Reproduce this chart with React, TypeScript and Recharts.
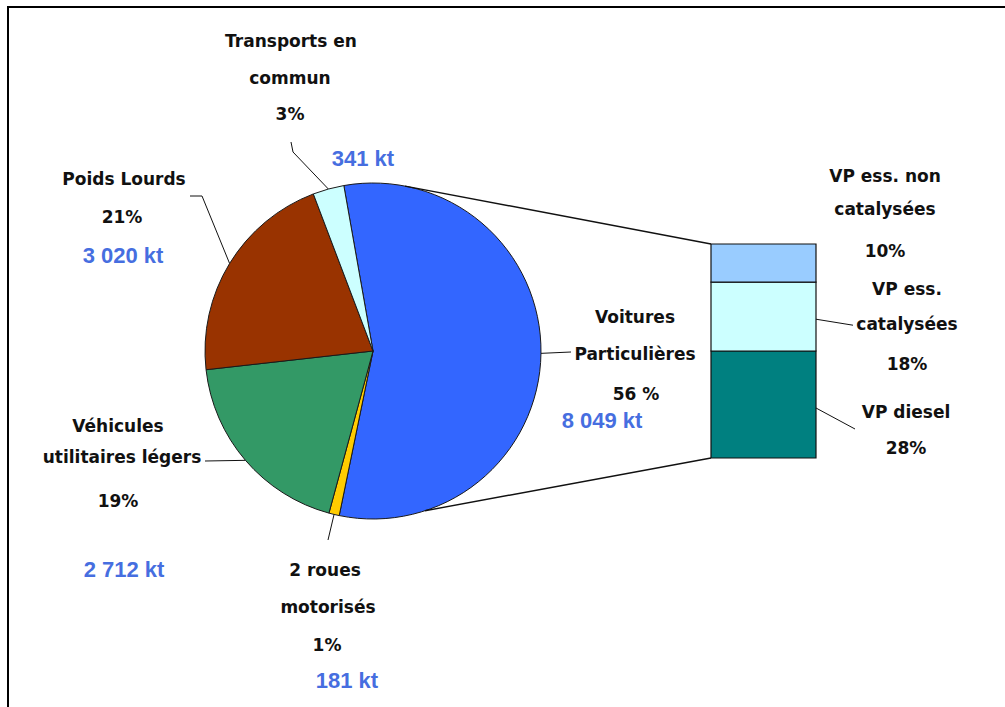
import { Bar, BarChart, Cell, Pie, PieChart, XAxis, YAxis } from 'recharts'

// Emissions by vehicle type (share of total, %), clockwise from the top
const SLICE_NAMES = [
  'Voitures Particulières',
  '2 roues motorisés',
  'Véhicules utilitaires légers',
  'Poids Lourds',
  'Transports en commun',
]
const SLICE_SHARES = [56, 1, 19, 21, 3]
const SLICE_KT = ['8 049 kt', '181 kt', '2 712 kt', '3 020 kt', '341 kt']
const SLICE_LINES = [
  ['Voitures', 'Particulières', '56 %'],
  ['2 roues', 'motorisés', '1%'],
  ['Véhicules', 'utilitaires légers', '19%'],
  ['Poids Lourds', '21%'],
  ['Transports en', 'commun', '3%'],
]
const SLICE_COLORS = ['#3366ff', '#ffcc00', '#339966', '#993300', '#ccffff']

// Breakdown of the "Voitures Particulières" slice, bottom to top
const VP_KEYS = ['diesel', 'essCat', 'essNonCat']
const VP_SHARES = [28, 18, 10]
const VP_LINES = [
  ['VP diesel', '28%'],
  ['VP ess.', 'catalysées', '18%'],
  ['VP ess. non', 'catalysées', '10%'],
]
const VP_COLORS = ['#008080', '#ccffff', '#99ccff']

const pieData = SLICE_NAMES.map((name, i) => ({ name, value: SLICE_SHARES[i] }))
const vpRow: Record<string, number | string> = { name: 'VP' }
VP_KEYS.forEach((k, i) => {
  vpRow[k] = VP_SHARES[i]
})
const vpData = [vpRow]

const W = 1005
const H = 707
const PIE_CX = 373
const PIE_CY = 351
const PIE_R = 168

const BAR_LEFT = 711
const BAR_TOP = 244
const BAR_W = 105
const BAR_H = 214
const BAR_BOX = { left: 700, top: 140, width: 300, height: 330 }

const LABEL_FONT = '"DejaVu Sans", sans-serif'
const KT_FONT = '"Liberation Sans", Arial, sans-serif'
const KT_COLOR = '#466ee0'

// label placement for each pie slice: line centres / baselines, kt value, leader bends
const PIE_LABELS = [
  { xs: [635, 635, 636], ys: [323, 360, 400], kt: [602, 428], leader: [[571, 352]] },
  { xs: [325, 328, 327], ys: [576, 613, 651], kt: [347, 688], leader: [[328, 540]] },
  { xs: [118, 122, 118], ys: [432, 463, 507], kt: [124, 577], leader: [[205, 461]] },
  { xs: [124, 122], ys: [185, 223], kt: [123, 263], leader: [[202, 196], [190, 196]] },
  { xs: [291, 290, 290], ys: [47, 84, 120], kt: [363, 166], leader: [[293, 152], [291, 142]] },
]

// offsets from the right edge / top of each bar segment
const VP_LABELS = [
  { dx: 90, dys: [67, 103], leader: [[0, 57], [39, 78]] },
  { dx: 91, dys: [13, 48, 88], leader: [[0, 37], [37, 43]] },
  { dx: 69, dys: [-62, -29, 13], leader: null },
]

const RAD = Math.PI / 180
const polar = (cx: number, cy: number, r: number, angle: number) => ({
  x: cx + r * Math.cos(-angle * RAD),
  y: cy + r * Math.sin(-angle * RAD),
})

const blackText = (key: string, x: number, y: number, text: string) => (
  <text
    key={key}
    x={x}
    y={y}
    textAnchor="middle"
    fontFamily={LABEL_FONT}
    fontWeight="bold"
    fontSize={17}
    fill="#111"
  >
    {text}
  </text>
)

const renderPieLabel = (props: any) => {
  const { cx, cy, midAngle, outerRadius, index } = props
  const cfg = PIE_LABELS[index]
  const edge = polar(cx, cy, outerRadius, midAngle)
  const pts = [[edge.x, edge.y], ...cfg.leader]
  const d = pts.map((p, i) => `${i === 0 ? 'M' : 'L'}${p[0]},${p[1]}`).join(' ')

  let connectors = null
  if (index === 0) {
    const top = polar(cx, cy, outerRadius, 79)
    const bottom = polar(cx, cy, outerRadius, -72)
    connectors = (
      <g stroke="#111" strokeWidth={1.4}>
        <line x1={top.x} y1={top.y} x2={BAR_LEFT} y2={BAR_TOP} />
        <line x1={bottom.x} y1={bottom.y} x2={BAR_LEFT} y2={BAR_TOP + BAR_H} />
      </g>
    )
  }

  return (
    <g>
      {connectors}
      <path d={d} stroke="#111" strokeWidth={1} fill="none" />
      {SLICE_LINES[index].map((t, i) => blackText(`l${i}`, cfg.xs[i], cfg.ys[i], t))}
      <text
        x={cfg.kt[0]}
        y={cfg.kt[1]}
        textAnchor="middle"
        fontFamily={KT_FONT}
        fontWeight="bold"
        fontSize={22}
        fill={KT_COLOR}
      >
        {SLICE_KT[index]}
      </text>
    </g>
  )
}

const makeVpLabel = (seg: number) => (props: any) => {
  const box = props.viewBox ?? props
  const right = box.x + box.width
  const top = box.y
  const cfg = VP_LABELS[seg]
  return (
    <g>
      {cfg.leader && (
        <line
          x1={right + cfg.leader[0][0]}
          y1={top + cfg.leader[0][1]}
          x2={right + cfg.leader[1][0]}
          y2={top + cfg.leader[1][1]}
          stroke="#111"
          strokeWidth={1}
        />
      )}
      {VP_LINES[seg].map((t, i) => blackText(`v${i}`, right + cfg.dx, top + cfg.dys[i], t))}
    </g>
  )
}

const App = () => {
  return (
    <div style={{ position: 'absolute', left: 0, top: 0, width: W, height: H, background: '#fff', overflow: 'hidden' }}>
      <div
        style={{
          position: 'absolute',
          left: 7,
          top: 6,
          width: W,
          height: H,
          borderTop: '2px solid #000',
          borderLeft: '2px solid #000',
        }}
      />
      <div style={{ position: 'absolute', left: 0, top: 0 }}>
        <PieChart width={W} height={H} margin={{ top: 0, right: 0, bottom: 0, left: 0 }}>
          <Pie
            data={pieData}
            dataKey="value"
            nameKey="name"
            cx={PIE_CX}
            cy={PIE_CY}
            outerRadius={PIE_R}
            startAngle={100}
            endAngle={-260}
            stroke="#1a1a1a"
            strokeWidth={1}
            label={renderPieLabel}
            labelLine={false}
            isAnimationActive={false}
          >
            {pieData.map((d, i) => (
              <Cell key={d.name} fill={SLICE_COLORS[i]} />
            ))}
          </Pie>
        </PieChart>
      </div>
      <div style={{ position: 'absolute', left: BAR_BOX.left, top: BAR_BOX.top }}>
        <BarChart
          width={BAR_BOX.width}
          height={BAR_BOX.height}
          data={vpData}
          barCategoryGap={0}
          margin={{
            top: BAR_TOP - BAR_BOX.top,
            left: BAR_LEFT - BAR_BOX.left,
            right: BAR_BOX.width - (BAR_LEFT - BAR_BOX.left) - BAR_W,
            bottom: BAR_BOX.height - (BAR_TOP - BAR_BOX.top) - BAR_H,
          }}
        >
          <XAxis dataKey="name" hide />
          <YAxis hide domain={[0, 56]} />
          {VP_KEYS.map((k, i) => (
            <Bar
              key={k}
              dataKey={k}
              stackId="vp"
              fill={VP_COLORS[i]}
              stroke="#111"
              strokeWidth={1.2}
              label={makeVpLabel(i)}
              isAnimationActive={false}
            />
          ))}
        </BarChart>
      </div>
    </div>
  )
}

export default App
